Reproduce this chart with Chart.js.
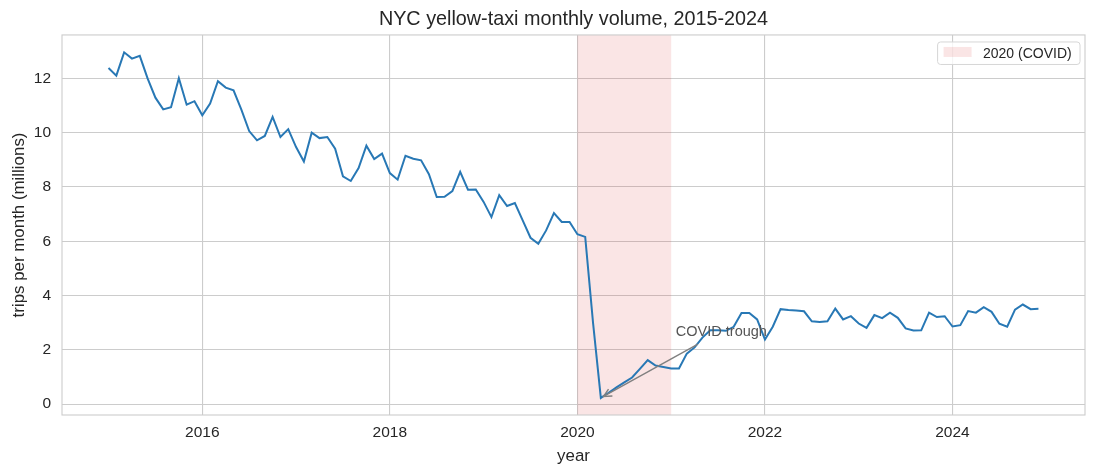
<!DOCTYPE html>
<html><head><meta charset="utf-8">
<script src="https://cdn.jsdelivr.net/npm/chart.js@4.4.1/dist/chart.umd.min.js"></script>
<style>html,body{margin:0;padding:0;background:#fff}#wrap{width:1095px;height:475px;position:relative}</style>
</head><body><div id="wrap"><canvas id="c" width="1095" height="475"></canvas></div>
<script>
// ---- data (millions of trips per month) ----
const START_YEAR = 2015;
const V2015 = [12.38, 12.10, 12.96, 12.73, 12.83, 12.00, 11.29, 10.86, 10.94, 12.01, 11.03, 11.16];
const V2016 = [10.64, 11.07, 11.90, 11.66, 11.56, 10.85, 10.06, 9.72, 9.88, 10.58, 9.84, 10.13];
const V2017 = [9.47, 8.94, 10.00, 9.80, 9.84, 9.41, 8.39, 8.22, 8.70, 9.52, 9.03, 9.23];
const V2018 = [8.51, 8.27, 9.15, 9.04, 8.98, 8.47, 7.63, 7.64, 7.85, 8.56, 7.90, 7.91];
const V2019 = [7.45, 6.89, 7.70, 7.30, 7.41, 6.77, 6.13, 5.91, 6.40, 7.04, 6.71, 6.71];
const V2020 = [6.26, 6.16, 3.00, 0.23, 0.42, 0.62, 0.80, 0.98, 1.30, 1.62, 1.42, 1.37];
const V2021 = [1.31, 1.31, 1.86, 2.09, 2.45, 2.72, 2.72, 2.70, 2.85, 3.36, 3.36, 3.12];
const V2022 = [2.38, 2.85, 3.50, 3.47, 3.45, 3.42, 3.05, 3.03, 3.05, 3.52, 3.12, 3.24];
const V2023 = [2.97, 2.81, 3.28, 3.17, 3.37, 3.18, 2.79, 2.71, 2.72, 3.37, 3.21, 3.24];
const V2024 = [2.86, 2.91, 3.43, 3.37, 3.57, 3.40, 2.96, 2.85, 3.48, 3.67, 3.50, 3.51];
const X_TICKS = [2016, 2018, 2020, 2022, 2024];
const Y_TICKS = [0, 2, 4, 6, 8, 10, 12];
const COVID_SPAN = [2020, 2021];
const LEGEND_LABEL = '2020 (COVID)';
const ANNOT_TEXT = 'COVID trough';
const ANNOT_TEXT_AT = [2021.05, 2.5];
const TROUGH_INDEX = 63;
const TITLE = 'NYC yellow-taxi monthly volume, 2015-2024';
const X_LABEL = 'year';
const Y_LABEL = 'trips per month (millions)';

const YEARLY = [V2015, V2016, V2017, V2018, V2019, V2020, V2021, V2022, V2023, V2024];
const points = [];
YEARLY.forEach((arr, yi) => arr.forEach((v, m) => points.push({x: START_YEAR + yi + m / 12, y: v})));

const FONT = '"Liberation Sans", Arial, Helvetica, sans-serif';
const TXT = '#262626';
const GRID = '#cccccc';
const SHADE = 'rgba(214,39,40,0.12)';

const decor = {
  id: 'decor',
  beforeDatasetsDraw(chart) {
    const {ctx, chartArea: a, scales: {x}} = chart;
    ctx.save();
    const x0 = x.getPixelForValue(COVID_SPAN[0]), x1 = x.getPixelForValue(COVID_SPAN[1]);
    ctx.fillStyle = SHADE;
    ctx.fillRect(x0, a.top, x1 - x0, a.bottom - a.top);
    ctx.strokeStyle = GRID;
    ctx.lineWidth = 1.1;
    ctx.strokeRect(a.left, a.top, a.right - a.left, a.bottom - a.top);
    ctx.restore();
  },
  afterDatasetsDraw(chart) {
    const {ctx, chartArea: a, scales: {x, y}} = chart;
    ctx.save();
    // annotation
    const fs = 14.5;
    ctx.font = fs + 'px ' + FONT;
    const tx = x.getPixelForValue(ANNOT_TEXT_AT[0]);
    const ty = y.getPixelForValue(ANNOT_TEXT_AT[1]);
    const w = ctx.measureText(ANNOT_TEXT).width;
    const px = points[TROUGH_INDEX];
    const gx = x.getPixelForValue(px.x), gy = y.getPixelForValue(px.y);
    const cx = tx + w / 2, cy = ty - 0.35 * fs;
    const dx = gx - cx, dy = gy - cy;
    const t = Math.min((w / 2 + 3) / Math.abs(dx), 13 / Math.abs(dy));
    const sx = cx + t * dx, sy = cy + t * dy;
    const len = Math.hypot(gx - sx, gy - sy);
    const ux = (gx - sx) / len, uy = (gy - sy) / len;
    const ex = gx - 3 * ux, ey = gy - 3 * uy;
    ctx.strokeStyle = '#808080';
    ctx.lineWidth = 1.4;
    ctx.beginPath(); ctx.moveTo(sx, sy); ctx.lineTo(ex, ey); ctx.stroke();
    const hl = 8, hw = 4;
    ctx.beginPath();
    ctx.moveTo(ex - hl * ux + hw * uy, ey - hl * uy - hw * ux);
    ctx.lineTo(ex, ey);
    ctx.lineTo(ex - hl * ux - hw * uy, ey - hl * uy + hw * ux);
    ctx.stroke();
    ctx.fillStyle = '#555555';
    ctx.textBaseline = 'alphabetic';
    ctx.textAlign = 'left';
    ctx.fillText(ANNOT_TEXT, tx, ty);
    // legend
    const lf = 14;
    ctx.font = lf + 'px ' + FONT;
    const lw = ctx.measureText(LEGEND_LABEL).width;
    const bw = 6 + 28 + 11.4 + lw + 8.3, bh = 22.5;
    const bx = a.right - 5 - bw, by = a.top + 7;
    ctx.beginPath();
    if (ctx.roundRect) ctx.roundRect(bx, by, bw, bh, 3); else ctx.rect(bx, by, bw, bh);
    ctx.fillStyle = 'rgba(255,255,255,0.8)';
    ctx.fill();
    ctx.strokeStyle = '#d6d6d6';
    ctx.lineWidth = 1;
    ctx.stroke();
    ctx.fillStyle = SHADE;
    ctx.fillRect(bx + 6, by + 5, 28, 10);
    ctx.fillStyle = TXT;
    ctx.textBaseline = 'middle';
    ctx.fillText(LEGEND_LABEL, bx + 6 + 28 + 11.4, by + bh / 2 + 0.5);
    ctx.restore();
  }
};

new Chart(document.getElementById('c'), {
  type: 'line',
  data: {datasets: [{data: points, borderColor: '#2878b5', borderWidth: 2, pointRadius: 0, tension: 0, fill: false}]},
  options: {
    responsive: false, animation: false, devicePixelRatio: 1,
    layout: {padding: {left: 0, right: 10, top: 0, bottom: 0}},
    plugins: {
      legend: {display: false}, tooltip: {enabled: false},
      title: {display: true, fullSize: false, text: TITLE, color: TXT, font: {family: FONT, size: 19.8, weight: 'normal'}, padding: {top: 7.6, bottom: 3.6}}
    },
    scales: {
      x: {
        type: 'linear', min: 2014.504, max: 2025.413,
        afterBuildTicks: s => { s.ticks = X_TICKS.map(v => ({value: v})); },
        afterFit: s => { s.height = 60; },
        ticks: {callback: v => String(v), color: TXT, font: {family: FONT, size: 15.5}, padding: 8, maxRotation: 0, autoSkip: false},
        grid: {color: GRID, lineWidth: 1.1, drawTicks: false},
        border: {display: false},
        title: {display: true, text: X_LABEL, color: TXT, font: {family: FONT, size: 16.9}, padding: {top: 0, bottom: 9}}
      },
      y: {
        type: 'linear', min: -0.40, max: 13.6,
        afterBuildTicks: s => { s.ticks = Y_TICKS.map(v => ({value: v})); },
        afterFit: s => { s.width = 62; },
        ticks: {callback: v => String(v), color: TXT, font: {family: FONT, size: 15.5}, padding: 11, autoSkip: false},
        grid: {color: GRID, lineWidth: 1.1, drawTicks: false},
        border: {display: false},
        title: {display: true, text: Y_LABEL, color: TXT, font: {family: FONT, size: 16.9}, padding: {top: 9, bottom: 0}}
      }
    }
  },
  plugins: [decor]
});
</script></body></html>
